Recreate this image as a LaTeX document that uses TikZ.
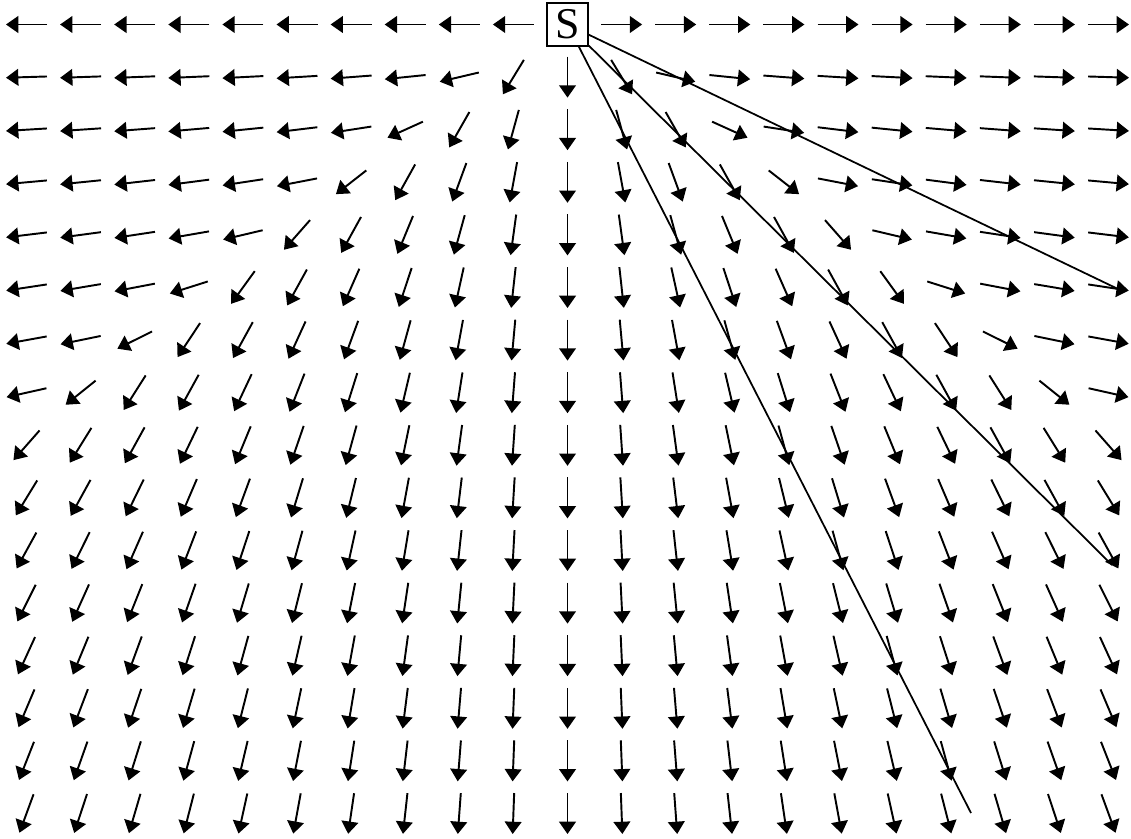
\documentclass[tikz,border=0pt]{standalone}
\usepackage{fontspec}
\setmainfont{Liberation Serif}
\usetikzlibrary{arrows.meta}

\begin{document}
\begin{tikzpicture}[
    x=0.02cm, y=-0.02cm,
    src/.style={draw,line width=0.9pt,minimum width=0.82cm,minimum height=0.86cm,inner sep=0pt,font=\fontsize{25}{25}\selectfont},
    vec/.style={-{Triangle[length=7pt,width=9.5pt]},line width=1.1pt},
    ray/.style={line width=1pt}
  ]
    \useasboundingbox (0,0) rectangle (1131,838);
    \node[src] (S) at (567.5,24.5) {S};
    % slowness field on the grid, S sits at column 0 of row 0
    \foreach \row in {0,...,15}{
      \foreach \col in {-10,...,10}{
        \pgfmathtruncatemacro{\atsrc}{(\row==0)&&(\col==0)}
        \ifnum\atsrc=0
          \pgfmathsetmacro{\ac}{abs(\col)}
          \pgfmathsetmacro{\tin}{atan2(0.55*\ac,\row)}
          \pgfmathsetmacro{\tout}{atan2(3.3*\ac,\row)}
          \pgfmathsetmacro{\dd}{max(-2,min(2,\ac-1.25*\row-0.35))}
          \pgfmathsetmacro{\wt}{1/(1+exp(-4.5*\dd))}
          \pgfmathsetmacro{\vx}{sign(\col)*((1-\wt)*sin(\tin)+\wt*sin(\tout))}
          \pgfmathsetmacro{\vy}{(1-\wt)*cos(\tin)+\wt*cos(\tout)}
          \pgfmathsetmacro{\px}{26.5+(\col+10)*54.1}
          \pgfmathsetmacro{\py}{24.5+\row*52.6}
          \draw[vec] ({\px-20.5*\vx},{\py-20.5*\vy}) -- ({\px+20.5*\vx},{\py+20.5*\vy});
        \fi
      }
    }
    % rays
    \coordinate (end1) at (1118,289);
    \coordinate (end2) at (1112,565);
    \coordinate (end3) at (971,813);
    \draw[ray] (S) -- (end1);
    \draw[ray] (S) -- (end2);
    \draw[ray] (S) -- (end3);
\end{tikzpicture}
\end{document}
